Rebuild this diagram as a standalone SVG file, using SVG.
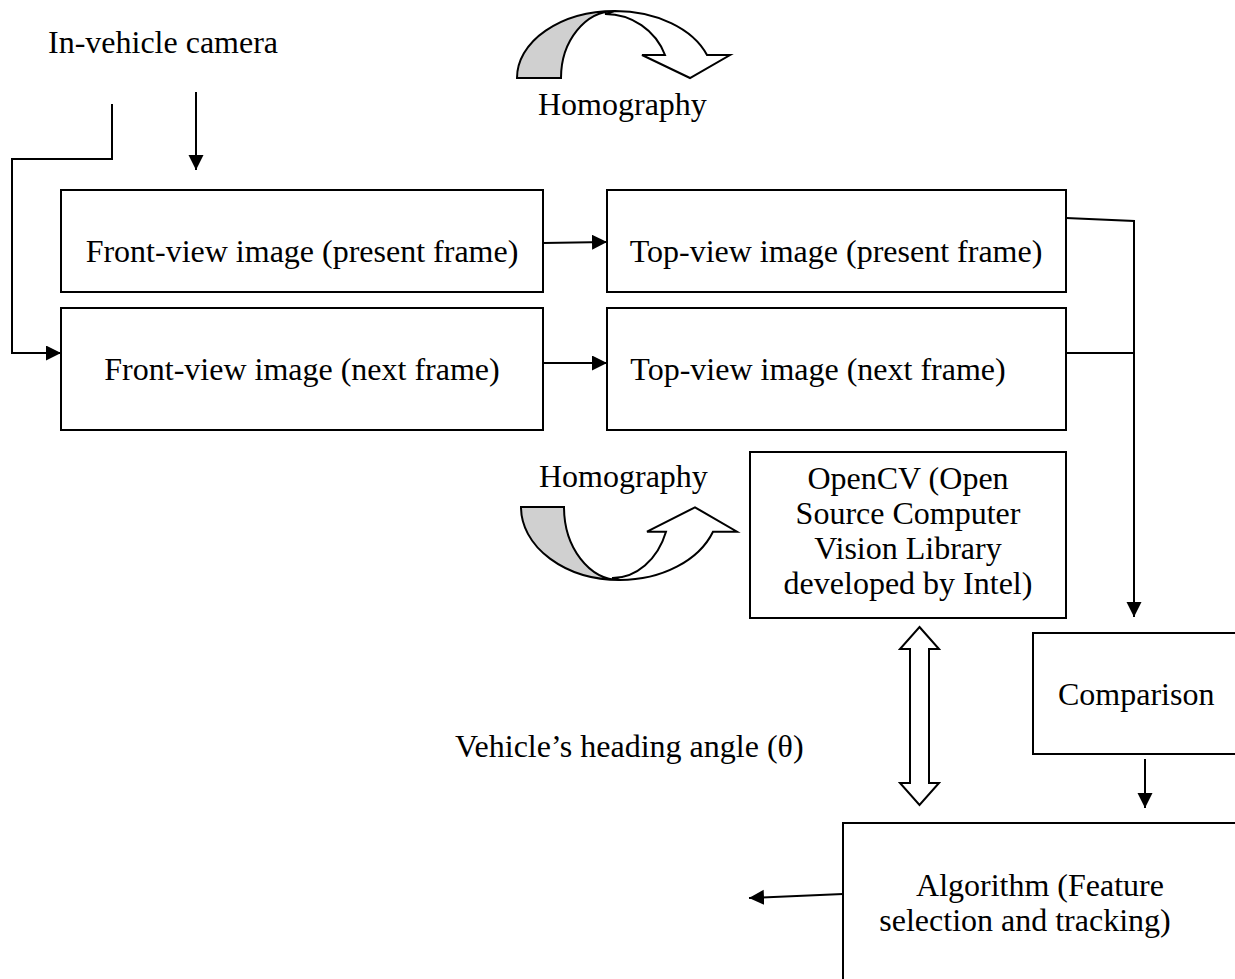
<svg xmlns="http://www.w3.org/2000/svg" width="1235" height="979" viewBox="0 0 1235 979">
<style>
.box{fill:#fff;stroke:#000;stroke-width:2}
.t{font-family:"Liberation Serif","Times New Roman",serif;font-size:32px;fill:#000}
.c{text-anchor:middle}
.ln{fill:none;stroke:#000;stroke-width:2}
.band{stroke:#000;stroke-width:2;stroke-linejoin:miter}
</style>
<defs>
<marker id="ah" markerUnits="userSpaceOnUse" markerWidth="16" markerHeight="16" refX="15" refY="7.5" orient="auto">
<path d="M0,0 L15,7.5 L0,15 Z" fill="#000"/>
</marker>
</defs>
<rect width="1235" height="979" fill="#fff"/>

<g id="label-camera"><text class="t" x="48" y="53">In-vehicle camera</text></g>

<g id="homography-top">
<path class="band" fill="#fff" d="M615,11 A98,67 0 0 1 707,55 L730,55 L690,78 L642,55 L665,55 A64,64 0 0 0 605,14 Z"/>
<path class="band" fill="#d0d0d0" d="M517,78 A98,67 0 0 1 615,11 A54,67 0 0 0 561,78 Z"/>
<text class="t" x="538" y="115">Homography</text>
</g>

<g id="front-present"><rect class="box" x="61" y="190" width="482" height="102"/><text class="t c" x="302" y="262">Front-view image (present frame)</text></g>
<g id="front-next"><rect class="box" x="61" y="308" width="482" height="122"/><text class="t c" x="302" y="380">Front-view image (next frame)</text></g>
<g id="top-present"><rect class="box" x="607" y="190" width="459" height="102"/><text class="t c" x="836" y="262">Top-view image (present frame)</text></g>
<g id="top-next"><rect class="box" x="607" y="308" width="459" height="122"/><text class="t c" x="818" y="380">Top-view image (next frame)</text></g>

<g id="homography-bottom">
<path class="band" fill="#fff" d="M620,580 A99,73 0 0 0 713,531.7 L737,531.7 L695,507.3 L647,531.7 L666,531.7 A57,71 0 0 1 612,578 Z"/>
<path class="band" fill="#d0d0d0" d="M521,507 A99,73 0 0 0 620,580 A56,73 0 0 1 564,507 Z"/>
<text class="t" x="539" y="487">Homography</text>
</g>

<g id="opencv"><rect class="box" x="750" y="452" width="316" height="166"/>
<text class="t c" x="908" y="489">OpenCV (Open</text>
<text class="t c" x="908" y="524">Source Computer</text>
<text class="t c" x="908" y="559">Vision Library</text>
<text class="t c" x="908" y="594">developed by Intel)</text>
</g>

<g id="comparison"><rect class="box" x="1033" y="633" width="300" height="121"/><text class="t" x="1058" y="705">Comparison</text></g>

<g id="heading-label"><text class="t" x="455" y="757">Vehicle’s heading angle (θ)</text></g>

<g id="algorithm"><rect class="box" x="843" y="823" width="500" height="300"/>
<text class="t c" x="1040" y="896">Algorithm (Feature</text>
<text class="t c" x="1025" y="931">selection and tracking)</text>
</g>

<g id="connectors">
<path class="ln" d="M196,92 L196,170" marker-end="url(#ah)"/>
<path class="ln" d="M112,104 V159 H12 V353 H61" marker-end="url(#ah)"/>
<path class="ln" d="M543,243 L607,242" marker-end="url(#ah)"/>
<path class="ln" d="M543,363 L607,363" marker-end="url(#ah)"/>
<path class="ln" d="M1066,218 L1134,221 V617" marker-end="url(#ah)"/>
<path class="ln" d="M1066,353 H1134"/>
<path class="ln" d="M1145,759 V808" marker-end="url(#ah)"/>
<path class="ln" d="M843,894 L749,898" marker-end="url(#ah)"/>
<polygon class="band" fill="#fff" points="919.5,627 939,649 929,649 929,783 939,783 919.5,805 900,783 910,783 910,649 900,649"/>
</g>
</svg>
